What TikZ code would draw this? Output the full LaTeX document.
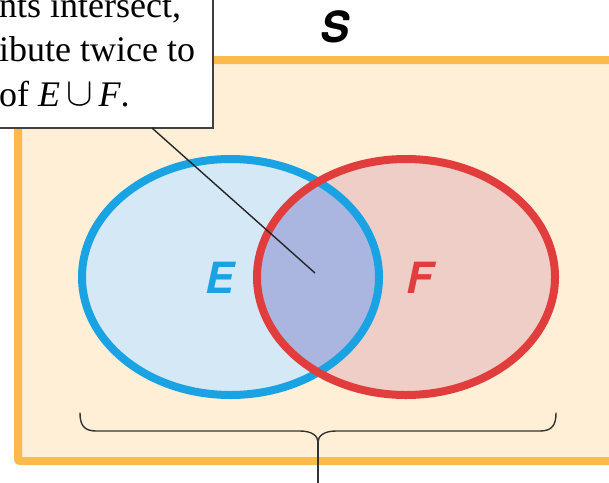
\documentclass[tikz,border=0pt]{standalone}
\usepackage{graphicx}
\usepackage{fontspec}
\setmainfont{Liberation Serif}
\newfontfamily\heros{TeX Gyre Heros}
\definecolor{borderorange}{HTML}{FBBA4C}
\definecolor{peach}{HTML}{FFEFD7}
\definecolor{eblue}{HTML}{1AA3E3}
\definecolor{efill}{HTML}{D5E8F6}
\definecolor{fred}{HTML}{E23D3D}
\definecolor{ffill}{HTML}{EFCEC7}
\definecolor{bothfill}{HTML}{AAB6E0}
\newcommand{\bigcupsym}{\raisebox{1pt}{\scalebox{1.6}{$\cup$}}}
\begin{document}
\begin{tikzpicture}[x=1pt,y=-1pt,
  setlabel/.style={font=\heros\bfseries\itshape\fontsize{43}{43}\selectfont, inner sep=0pt},
  calltext/.style={font=\fontsize{36}{44}\selectfont, inner sep=0pt, anchor=base west},
  ring/.style={line width=8pt},
  pointer/.style={line width=1.4pt, draw=black!85},
  bracestyle/.style={line width=1.4pt, draw=black!80, line cap=round, line join=round}]
\useasboundingbox (0,0) rectangle (609,482);
\begin{scope}
\clip (0,0) rectangle (609,482);
% sample space
\draw[line width=8pt, draw=borderorange, fill=peach, rounded corners=2pt] (18,60) rectangle (630,461);
% ellipse fills
\fill[efill] (230.5,277) ellipse [x radius=148.5, y radius=118];
\fill[ffill] (406,277) ellipse [x radius=149, y radius=118];
\begin{scope}
\clip (230.5,277) ellipse [x radius=148.5, y radius=118];
\fill[bothfill] (406,277) ellipse [x radius=149, y radius=118];
\end{scope}
% ellipse outlines
\draw[ring, eblue] (230.5,277) ellipse [x radius=148.5, y radius=118];
\draw[ring, fred] (406,277) ellipse [x radius=149, y radius=118];
% labels
\node[setlabel, text=eblue] (E) at (220,278) {E};
\node[setlabel, text=fred] (F) at (420,278) {F};
\node[setlabel, text=black] (S) at (335,27) {S};
% callout box
\draw[line width=1.3pt, draw=black!75, fill=white] (-20,-20) rectangle (213,128);
\node[calltext] (l1) at (-1,17) {nts intersect,};
\node[calltext] (l2) at (-1,61) {ibute twice to};
\node[calltext] (l3) at (-1,106) {of \textit{E}\,\bigcupsym\,\textit{F}.};
\coordinate (callstart) at (152,128);
\coordinate (inter) at (315,273);
\draw[pointer] (callstart) -- (inter);
% brace
\coordinate (bl) at (80,413);
\coordinate (br) at (556,413);
\coordinate (tip) at (318,442);
\coordinate (below) at (318,490);
\draw[bracestyle] (bl) .. controls (80,425) and (84,431) .. (96,431)
  -- (300,431) .. controls (312,431) and (318,436) .. (tip)
  .. controls (318,436) and (324,431) .. (336,431)
  -- (540,431) .. controls (552,431) and (556,425) .. (br);
\draw[bracestyle] (tip) -- (below);
\end{scope}
\end{tikzpicture}
\end{document}
